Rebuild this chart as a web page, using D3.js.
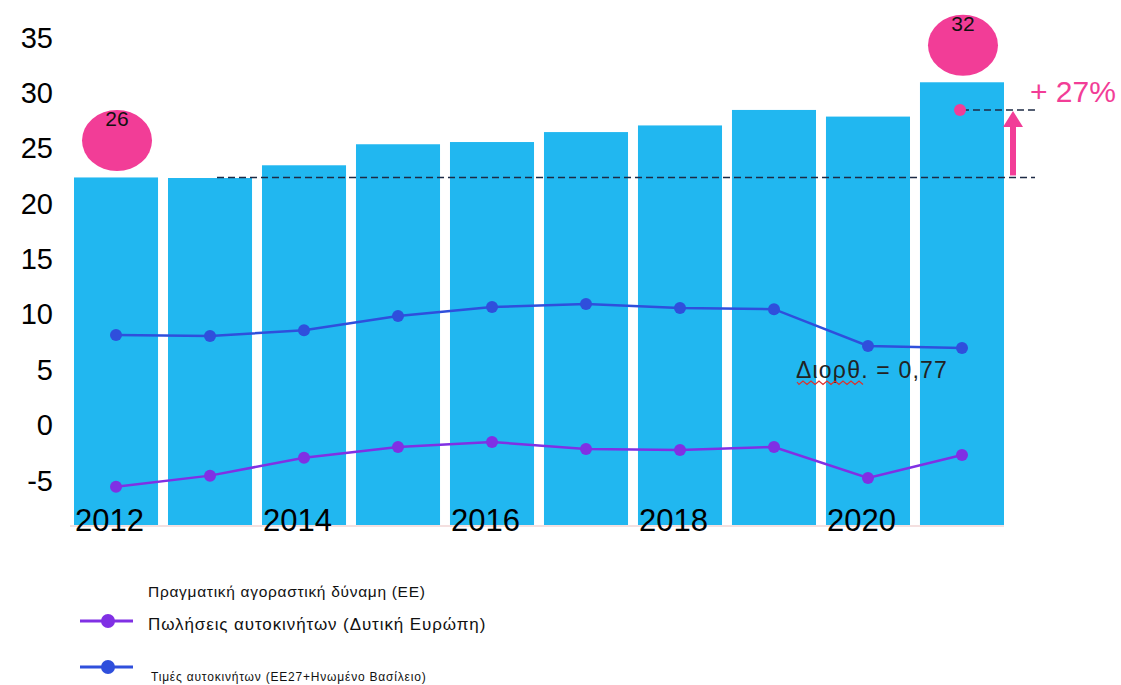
<!DOCTYPE html>
<html>
<head>
<meta charset="utf-8">
<script src="https://cdn.jsdelivr.net/npm/d3@7"></script>
<style>
  body { margin: 0; background: #fff; }
  svg { display: block; font-family: "Liberation Sans", Arial, sans-serif; }
</style>
</head>
<body>
<div class="chart"></div>
<script>
// values
var years = [2012, 2013, 2014, 2015, 2016, 2017, 2018, 2019, 2020, 2021];
var purchasingPower = [22.4, 22.35, 23.5, 25.4, 25.6, 26.5, 27.1, 28.5, 27.9, 31.0];
var carPrices = [8.17, 8.08, 8.6, 9.88, 10.7, 10.97, 10.6, 10.5, 7.17, 7.0];
var carSales = [-5.54, -4.54, -2.92, -1.95, -1.5, -2.13, -2.22, -1.95, -4.75, -2.67];
var yTicks = [-5, 0, 5, 10, 15, 20, 25, 30, 35];
var xTickYears = [2012, 2014, 2016, 2018, 2020];
var bubbleYears = [2012, 2021];
var bubbleLabels = ["26", "32"];
var targetValue = 28.5;
var growthLabel = "+ 27%";
var correlationLabel = "Διορθ. = 0,77";
var legendLabels = [
  "Πραγματική αγοραστική δύναμη (ΕΕ)",
  "Πωλήσεις αυτοκινήτων (Δυτική Ευρώπη)",
  "Τιμές αυτοκινήτων (ΕΕ27+Ηνωμένο Βασίλειο)"
];

var W = 1121, H = 685;
var barColor = "#21b7f0", blue = "#2f4fdc", purple = "#8030e4", pink = "#f23d97";

var svg = d3.select("div.chart").append("svg")
    .attr("width", W).attr("height", H);

var x = d3.scaleBand().domain(years).range([74, 1004]).paddingInner(0.106).paddingOuter(0);
var y = d3.scaleLinear().domain([-9, 35]).range([525, 38]);
var bw = x.bandwidth();
var cx = function(yr){ return x(yr) + bw / 2; };

//bars
svg.selectAll(".bar")
    .data(years)
    .enter().append("rect")
    .attr("class", "bar")
    .attr("x", function(d){ return x(d); })
    .attr("width", bw)
    .attr("y", function(d, i){ return y(purchasingPower[i]); })
    .attr("height", function(d, i){ return y.range()[0] - y(purchasingPower[i]); })
    .attr("fill", barColor);

//faint baseline
svg.append("line")
    .attr("x1", 70).attr("x2", x.range()[1])
    .attr("y1", y.range()[0] + 1).attr("y2", y.range()[0] + 1)
    .attr("stroke", "#f1d6d6").attr("stroke-width", 1.5);

//y axis (plain hyphen for negatives, like the original)
var yAxis = svg.append("g")
    .attr("transform", "translate(53,0)")
    .call(d3.axisLeft(y).tickValues(yTicks).tickSize(0).tickPadding(0)
            .tickFormat(function(d){ return String(d); }));
yAxis.select(".domain").remove();
yAxis.selectAll("text")
    .attr("font-size", 29).attr("fill", "#000")
    .attr("font-family", "Liberation Sans, Arial, sans-serif");

//x axis (labels start at bar left edge)
var xAxis = svg.append("g")
    .attr("transform", "translate(0," + y.range()[0] + ")")
    .call(d3.axisBottom(x).tickValues(xTickYears).tickSize(0));
xAxis.select(".domain").remove();
xAxis.selectAll("text")
    .attr("font-size", 31).attr("fill", "#000")
    .attr("font-family", "Liberation Sans, Arial, sans-serif")
    .attr("text-anchor", "start")
    .attr("x", -bw / 2 + 1)
    .attr("dy", null)
    .attr("y", 6);

//lines
var line = d3.line()
    .x(function(d, i){ return cx(years[i]); })
    .y(function(d){ return y(d); });

[[carPrices, blue], [carSales, purple]].forEach(function(s){
  svg.append("path")
      .datum(s[0])
      .attr("d", line)
      .attr("fill", "none")
      .attr("stroke", s[1])
      .attr("stroke-width", 2.5);
  svg.selectAll(null)
      .data(s[0])
      .enter().append("circle")
      .attr("cx", function(d, i){ return cx(years[i]); })
      .attr("cy", function(d){ return y(d); })
      .attr("r", 6)
      .attr("fill", s[1]);
});

//pink bubbles above first and last bar
bubbleYears.forEach(function(yr, i){
  var top = y(purchasingPower[years.indexOf(yr)]);
  svg.append("ellipse")
      .attr("cx", cx(yr) + 1).attr("cy", top - 37)
      .attr("rx", 35).attr("ry", 30.5)
      .attr("fill", pink);
  svg.append("text")
      .attr("x", cx(yr) + 1).attr("y", top - 37 - 14)
      .attr("text-anchor", "middle")
      .attr("font-size", 21)
      .attr("fill", "#111")
      .text(bubbleLabels[i]);
});

//growth annotation
var baseY = y(purchasingPower[0]);
var targetY = y(targetValue);
var lastYear = years[years.length - 1];
var arrowX = x.range()[1] + 9;

svg.append("line")
    .attr("x1", cx(years[1]) + 7).attr("x2", x.range()[1] + 31)
    .attr("y1", baseY).attr("y2", baseY)
    .attr("stroke", "#1d2a44").attr("stroke-width", 1.6)
    .attr("stroke-dasharray", "7,4");
svg.append("line")
    .attr("x1", cx(lastYear)).attr("x2", x.range()[1] + 33)
    .attr("y1", targetY).attr("y2", targetY)
    .attr("stroke", "#1d2a44").attr("stroke-width", 1.6)
    .attr("stroke-dasharray", "7,4");
svg.append("circle")
    .attr("cx", cx(lastYear) - 2).attr("cy", targetY)
    .attr("r", 6).attr("fill", pink);

svg.append("rect")
    .attr("x", arrowX - 3).attr("width", 6)
    .attr("y", targetY + 14).attr("height", baseY - 2 - (targetY + 14))
    .attr("fill", pink);
svg.append("path")
    .attr("d", "M" + (arrowX - 10) + "," + (targetY + 17) + " L" + arrowX + "," + (targetY + 1) +
               " L" + (arrowX + 10) + "," + (targetY + 17) + " Z")
    .attr("fill", pink);

svg.append("text")
    .attr("x", 1030).attr("y", 102)
    .attr("font-size", 30)
    .attr("fill", pink)
    .text(growthLabel);

//correlation note
svg.append("text")
    .attr("x", 796).attr("y", 378)
    .attr("font-size", 23).attr("letter-spacing", 1.2)
    .attr("fill", "#222")
    .text(correlationLabel);
var wave = "M797,382";
for (var k = 0; k < 17; k++) {
  wave += " L" + (799 + k * 4) + "," + (k % 2 === 0 ? 384.5 : 381);
}
svg.append("path")
    .attr("d", wave)
    .attr("fill", "none")
    .attr("stroke", "#e0302a")
    .attr("stroke-width", 1.2);

//legend
var legend = svg.append("g");
legend.append("text")
    .attr("x", 148).attr("y", 597)
    .attr("font-size", 15.5).attr("letter-spacing", 0.7)
    .attr("fill", "#111")
    .text(legendLabels[0]);

[[purple, 621, legendLabels[1], 630, 17, 148, 0.9], [blue, 667, legendLabels[2], 681, 12, 151, 0.8]].forEach(function(l){
  legend.append("line")
      .attr("x1", 80).attr("x2", 133)
      .attr("y1", l[1]).attr("y2", l[1])
      .attr("stroke", l[0]).attr("stroke-width", 3);
  legend.append("circle")
      .attr("cx", 108).attr("cy", l[1]).attr("r", 7)
      .attr("fill", l[0]);
  legend.append("text")
      .attr("x", l[5]).attr("y", l[3])
      .attr("font-size", l[4]).attr("letter-spacing", l[6])
      .attr("fill", "#111")
      .text(l[2]);
});
</script>
</body>
</html>
